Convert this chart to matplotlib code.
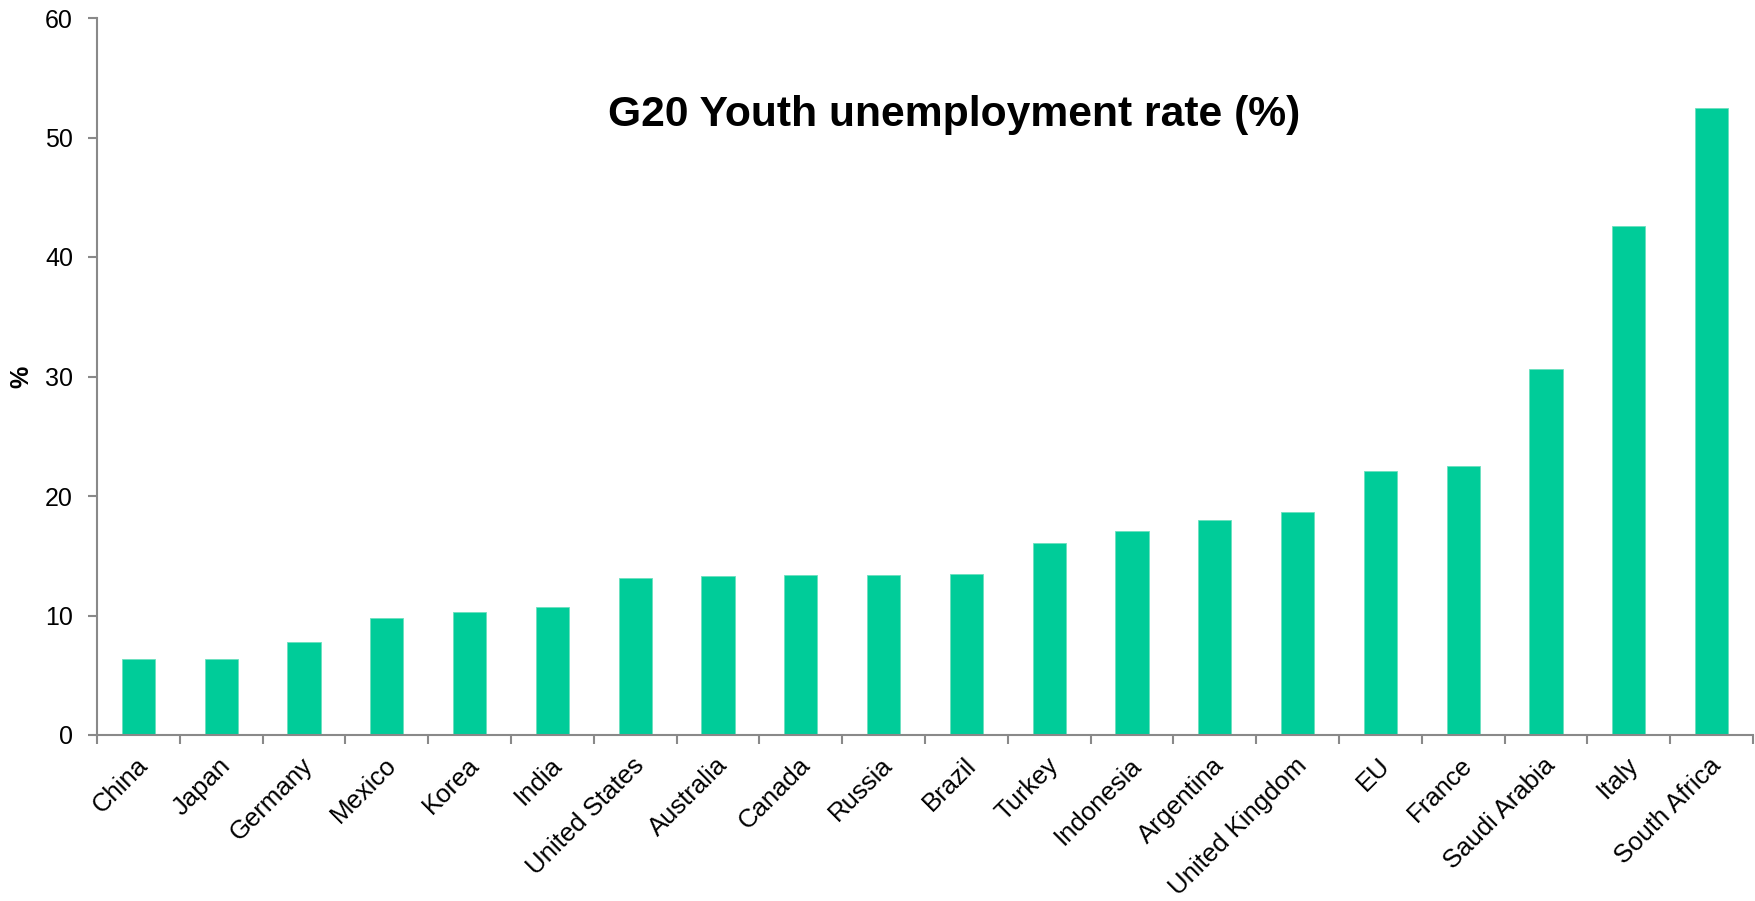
import matplotlib
matplotlib.use("Agg")
import matplotlib.pyplot as plt
import matplotlib.transforms as mtransforms
import numpy as np
from matplotlib.ticker import FixedLocator, NullFormatter

countries = ["China", "Japan", "Germany", "Mexico", "Korea", "India", "United States",
             "Australia", "Canada", "Russia", "Brazil", "Turkey", "Indonesia", "Argentina",
             "United Kingdom", "EU", "France", "Saudi Arabia", "Italy", "South Africa"]
rates = [6.4, 6.4, 7.8, 9.8, 10.3, 10.7, 13.1, 13.3, 13.4, 13.4, 13.5, 16.1, 17.1, 18.0,
         18.7, 22.1, 22.5, 30.6, 42.6, 52.5]
y_ticks = [0, 10, 20, 30, 40, 50, 60]
title = "G20 Youth unemployment rate (%)"

plt.rcParams['font.family'] = ['Liberation Sans', 'DejaVu Sans']

fig = plt.figure(figsize=(17.56, 9.01), dpi=100)
ax = fig.add_axes([97/1756, 1 - 735/901, (1753-97)/1756, (735-18)/901])

x = np.arange(len(countries))
ax.bar(x, rates, width=0.4, color="#00CC99", edgecolor="#6BE0BF", linewidth=0.6, zorder=2)

ax.set_xlim(-0.5, len(countries) - 0.5)
ax.set_ylim(0, 60)
ax.set_yticks(y_ticks)
ax.set_yticklabels([str(v) for v in y_ticks], fontsize=18)

ax.set_xticks(x)
ax.set_xticklabels(countries, rotation=45, ha='right', rotation_mode='anchor', fontsize=18.5)
ax.tick_params(axis='x', which='major', length=0, pad=13)
offset = mtransforms.ScaledTranslation(-3/100, 0, fig.dpi_scale_trans)
for lbl in ax.get_xticklabels():
    lbl.set_transform(lbl.get_transform() + offset)
ax.xaxis.set_minor_locator(FixedLocator(np.arange(-0.5, len(countries) + 0.5, 1)))
ax.xaxis.set_minor_formatter(NullFormatter())
ax.tick_params(axis='x', which='minor', length=6.3, color="#898989", width=1.5, direction='out')
ax.tick_params(axis='y', length=6.3, color="#898989", width=1.5, direction='out', pad=11)

for s in ['top', 'right']:
    ax.spines[s].set_visible(False)
for s in ['left', 'bottom']:
    ax.spines[s].set_color("#898989")
    ax.spines[s].set_linewidth(1.5)

ax.set_ylabel("%", fontsize=18, fontweight='bold', labelpad=8)

fig.text(954/1756, 1 - 126/901, title, ha='center', va='baseline', fontsize=30.7,
         fontweight='bold')

fig.savefig("out.png", dpi=100)
